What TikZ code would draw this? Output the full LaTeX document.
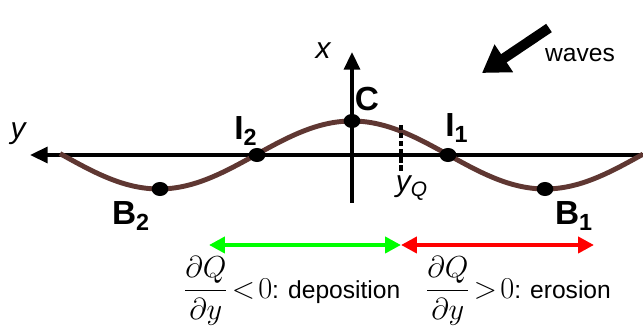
\documentclass[tikz,border=0pt]{standalone}
\usepackage{fontspec}
\setmainfont{Liberation Sans}
\usepackage{amsmath}
\usetikzlibrary{arrows.meta,shapes.geometric,positioning}

\definecolor{shore}{RGB}{95,55,50}

\newcommand{\mathbig}{\fontsize{18.5}{20}\selectfont}

\tikzset{
  axis/.style={line width=2pt, -{Triangle[length=10pt,width=9pt]}},
  dot/.style={ellipse, fill=black, minimum width=9.5pt, minimum height=8pt, inner sep=0pt},
  pointlabel/.style={font=\fontsize{19}{21}\selectfont\bfseries},
  axislabel/.style={font=\fontsize{17}{19}\selectfont\itshape},
  spanarrow/.style={line width=2.4pt, {Triangle[length=9pt,width=9pt]}-{Triangle[length=9pt,width=9pt]}},
  spanlabel/.style={font=\fontsize{14}{16}\selectfont},
  waveslabel/.style={font=\fontsize{14}{16}\selectfont}
}

\begin{document}
\begin{tikzpicture}[x=0.02cm,y=-0.02cm]
  \useasboundingbox (0,0) rectangle (643,330);

  % axes
  \coordinate (yright) at (643,155);
  \coordinate (yleft) at (30,155);
  \coordinate (xbottom) at (352,203);
  \coordinate (xtop) at (352,52);
  \draw[axis] (yright) -- (yleft);
  \draw[axis] (xbottom) -- (xtop);
  \node[axislabel] (ylab) at (18,134) {y};
  \node[axislabel] (xlab) at (323,51) {x};

  % shoreline
  \draw[shore, line width=2.8pt, domain=-292:291, samples=120, smooth]
    plot ({352+\x}, {155-34*cos(\x*0.93264)});

  % points on the shoreline
  \node[dot] (C) at (352,121) {};
  \node[dot] (I1) at (448,155) {};
  \node[dot] (I2) at (257,155) {};
  \node[dot] (B1) at (545,189) {};
  \node[dot] (B2) at (160,189) {};
  \node[pointlabel] (Clab) at (367,99) {C};
  \node[pointlabel] (I1lab) at (457,128) {I\textsubscript{1}};
  \node[pointlabel] (I2lab) at (246,131) {I\textsubscript{2}};
  \node[pointlabel] (B1lab) at (574,216) {B\textsubscript{1}};
  \node[pointlabel] (B2lab) at (131,216) {B\textsubscript{2}};

  % y_Q
  \coordinate (yqtop) at (401,125);
  \coordinate (yqbot) at (401,173);
  \draw[line width=2pt, dash pattern=on 3pt off 1.6pt] (yqtop) -- (yqbot);
  \node[axislabel] (yqlab) at (412,188) {y\textsubscript{Q}};

  % waves
  \coordinate (wavefrom) at (549,28);
  \coordinate (waveto) at (482,73);
  \draw[line width=5.7pt, -{Triangle[length=15pt,width=18pt]}] (wavefrom) -- (waveto);
  \node[waveslabel] (waveslab) at (580,55) {waves};

  % deposition / erosion spans
  \coordinate (depleft) at (209,245);
  \coordinate (mid) at (401,245);
  \coordinate (eroright) at (594,245);
  \draw[spanarrow, green] (depleft) -- (mid);
  \draw[spanarrow, red] (mid) -- (eroright);
  \node[spanlabel, anchor=west, inner sep=0pt] (deplab) at (183,291)
    {{\mathbig$\dfrac{\partial Q}{\partial y}\!<\!0$}: deposition};
  \node[spanlabel, anchor=west, inner sep=0pt] (erolab) at (425,291)
    {{\mathbig$\dfrac{\partial Q}{\partial y}\!>\!0$}: erosion};
\end{tikzpicture}
\end{document}
